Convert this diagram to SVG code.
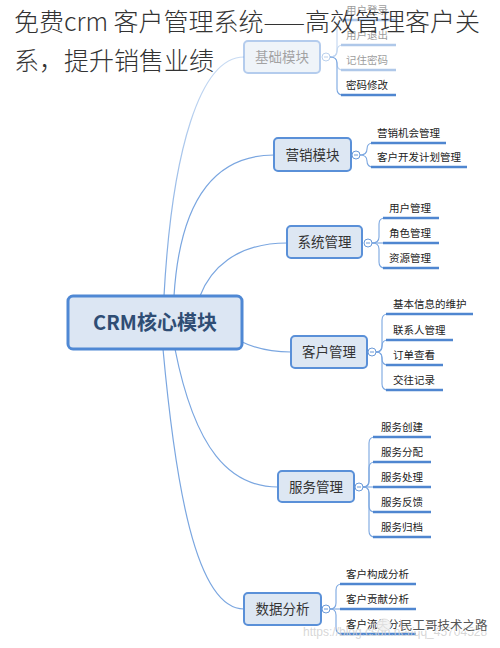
<svg xmlns="http://www.w3.org/2000/svg" width="500" height="648" viewBox="0 0 500 648">
<style>
.t{font-family:"Noto Sans CJK SC","Noto Sans",sans-serif}
.title{font-size:25px;fill:#333;font-weight:300}
.center-box{fill:#dce6f3;stroke:#4f88d4;stroke-width:3}
.center-txt{font-size:20px;font-weight:bold;fill:#2f4d74;text-anchor:middle}
.box{fill:#dde7f3;stroke:#5a90d8;stroke-width:2}
.box-txt{font-size:13.5px;fill:#333;text-anchor:middle}
.leaf{font-size:10.5px;fill:#222}
.conn{fill:none;stroke:#7aa6e0;stroke-width:1.2}
.trunk{fill:none;stroke:#7aa6e0;stroke-width:1.1}
.ul{fill:none;stroke:#4f86d0;stroke-width:2.5}
.tog{fill:#fff;stroke:#6b9ad8;stroke-width:1}
.togm{stroke:#6b9ad8;stroke-width:1}
.faded{opacity:0.45}
</style>
<defs>
<linearGradient id="fadeLine" gradientUnits="userSpaceOnUse" x1="0" y1="296" x2="0" y2="57">
<stop offset="0" stop-color="#7aa6e0"/>
<stop offset="1" stop-color="#c8dbf3"/>
</linearGradient>
</defs>

<g id="connectors">
<path d="M164,296 C172,150 200,57 244,57" fill="none" stroke="url(#fadeLine)" stroke-width="1.2"/>
<path class="conn" d="M174,296 C180,200 215,155 274,155"/>
<path class="conn" d="M200,296 C210,270 235,243 287,243"/>
<path class="conn" d="M240,341 Q262,352 291,352"/>
<path class="conn" d="M175,349 C195,450 230,487 278,487"/>
<path class="conn" d="M163,349 C175,480 195,609 244,609"/>

<g class="faded">
<path class="trunk" d="M330,57 Q337,57 337,51 L337,26 Q337,20 343,20"/>
<path class="trunk" d="M330,57 Q337,57 337,51 Q337,45 343,45"/>
<path class="trunk" d="M330,57 Q337,57 337,63 L337,64 Q337,70 343,70"/>
<path class="ul" d="M341,20 H396"/>
<path class="ul" d="M341,45 H396"/>
<path class="ul" d="M341,70 H396"/>
</g>
<path class="trunk" d="M330,57 Q337,57 337,63 L337,89 Q337,95 343,95"/>
<path class="ul" d="M341,95 H396"/>

<path class="trunk" d="M360,155 Q367,155 367,149 Q367,143 373,143"/>
<path class="trunk" d="M360,155 Q367,155 367,161 Q367,167 373,167"/>
<path class="ul" d="M371,143 H446"/>
<path class="ul" d="M371,167 H467"/>

<path class="trunk" d="M372,243 Q379,243 379,237 L379,224 Q379,218 385,218"/>
<path class="trunk" d="M372,243 H385"/>
<path class="trunk" d="M372,243 Q379,243 379,249 L379,262 Q379,268 385,268"/>
<path class="ul" d="M383,218 H439"/>
<path class="ul" d="M383,243 H439"/>
<path class="ul" d="M383,268 H439"/>

<path class="trunk" d="M376,352 Q382,352 382,346 L382,320 Q382,314 388,314"/>
<path class="trunk" d="M376,352 Q382,352 382,346 Q382,340 388,340"/>
<path class="trunk" d="M376,352 Q382,352 382,358 L382,359 Q382,365 388,365"/>
<path class="trunk" d="M376,352 Q382,352 382,358 L382,384 Q382,390 388,390"/>
<path class="ul" d="M386,314 H473"/>
<path class="ul" d="M386,340 H453"/>
<path class="ul" d="M386,365 H443"/>
<path class="ul" d="M386,390 H443"/>

<path class="trunk" d="M363,487 Q369,487 369,481 L369,443 Q369,437 375,437"/>
<path class="trunk" d="M363,487 Q369,487 369,481 L369,468 Q369,462 375,462"/>
<path class="trunk" d="M363,487 H375"/>
<path class="trunk" d="M363,487 Q369,487 369,493 L369,506 Q369,512 375,512"/>
<path class="trunk" d="M363,487 Q369,487 369,493 L369,531 Q369,537 375,537"/>
<path class="ul" d="M373,437 H431"/>
<path class="ul" d="M373,462 H431"/>
<path class="ul" d="M373,487 H431"/>
<path class="ul" d="M373,512 H431"/>
<path class="ul" d="M373,537 H431"/>

<path class="trunk" d="M330,609 Q336,609 336,603 L336,590 Q336,584 342,584"/>
<path class="trunk" d="M330,609 H342"/>
<path class="trunk" d="M330,609 Q336,609 336,615 L336,628 Q336,634 342,634"/>
<path class="ul" d="M340,584 H416"/>
<path class="ul" d="M340,609 H416"/>
<path class="ul" d="M340,634 H416"/>
</g>

<g id="center">
<rect class="center-box" x="68" y="296" width="174" height="53" rx="5"/>
<text class="t center-txt" x="155" y="330">CRM核心模块</text>
</g>

<g id="basic" class="faded">
<rect class="box" x="244" y="41" width="76" height="32" rx="4"/>
<text class="t box-txt" x="282" y="62">基础模块</text>
<circle class="tog" cx="326" cy="57" r="4"/><path class="togm" d="M324,57 H328"/>
<text class="t leaf" x="346" y="13.5">用户登录</text>
<text class="t leaf" x="346" y="38.5">用户退出</text>
<text class="t leaf" x="346" y="63.5">记住密码</text>
</g>
<g id="basic-pwd">
<text class="t leaf" x="346" y="88.5">密码修改</text>
</g>

<g id="marketing">
<rect class="box" x="274" y="138" width="77" height="33" rx="4"/>
<text class="t box-txt" x="312.5" y="160">营销模块</text>
<circle class="tog" cx="356" cy="155" r="4"/><path class="togm" d="M354,155 H358"/>
<text class="t leaf" x="377" y="136.5">营销机会管理</text>
<text class="t leaf" x="377" y="160.5">客户开发计划管理</text>
</g>

<g id="system">
<rect class="box" x="287" y="226" width="75" height="32" rx="4"/>
<text class="t box-txt" x="324.5" y="247">系统管理</text>
<circle class="tog" cx="368" cy="243" r="4"/><path class="togm" d="M366,243 H370"/>
<text class="t leaf" x="389" y="211.5">用户管理</text>
<text class="t leaf" x="389" y="236.5">角色管理</text>
<text class="t leaf" x="389" y="261.5">资源管理</text>
</g>

<g id="customer">
<rect class="box" x="291" y="336" width="76" height="32" rx="4"/>
<text class="t box-txt" x="329" y="357">客户管理</text>
<circle class="tog" cx="372" cy="352" r="4"/><path class="togm" d="M370,352 H374"/>
<text class="t leaf" x="393" y="307.5">基本信息的维护</text>
<text class="t leaf" x="393" y="333.5">联系人管理</text>
<text class="t leaf" x="393" y="358.5">订单查看</text>
<text class="t leaf" x="393" y="383.5">交往记录</text>
</g>

<g id="service">
<rect class="box" x="278" y="471" width="76" height="31" rx="4"/>
<text class="t box-txt" x="316" y="491.5">服务管理</text>
<circle class="tog" cx="359" cy="487" r="4"/><path class="togm" d="M357,487 H361"/>
<text class="t leaf" x="381" y="430.5">服务创建</text>
<text class="t leaf" x="381" y="455.5">服务分配</text>
<text class="t leaf" x="381" y="480.5">服务处理</text>
<text class="t leaf" x="381" y="505.5">服务反馈</text>
<text class="t leaf" x="381" y="530.5">服务归档</text>
</g>

<g id="analysis">
<rect class="box" x="244" y="593" width="77" height="32" rx="4"/>
<text class="t box-txt" x="282.5" y="614">数据分析</text>
<circle class="tog" cx="326" cy="609" r="4"/><path class="togm" d="M324,609 H328"/>
<text class="t leaf" x="346" y="577.5">客户构成分析</text>
<text class="t leaf" x="346" y="602.5">客户贡献分析</text>
<text class="t leaf" x="346" y="627.5">客户流失分析</text>
</g>

<g id="watermark">
<text x="303" y="636" font-family="Liberation Sans,Arial,sans-serif" font-size="12" fill="#cfcfcf" fill-opacity="0.85">https://blog.csdn.net/qq_45704528</text>
<ellipse cx="384" cy="625" rx="7" ry="6" fill="#f2f2f2" fill-opacity="0.9" stroke="#d8d8d8" stroke-width="0.8"/>
<text class="t" x="400" y="630" font-size="12.5" fill="#555" stroke="#fff" stroke-width="2" paint-order="stroke">民工哥技术之路</text>
</g>

<g id="title">
<text class="t title" x="14" y="31">免费crm 客户管理系统——高效管理客户关</text>
<text class="t title" x="14" y="70">系，提升销售业绩</text>
</g>
</svg>
